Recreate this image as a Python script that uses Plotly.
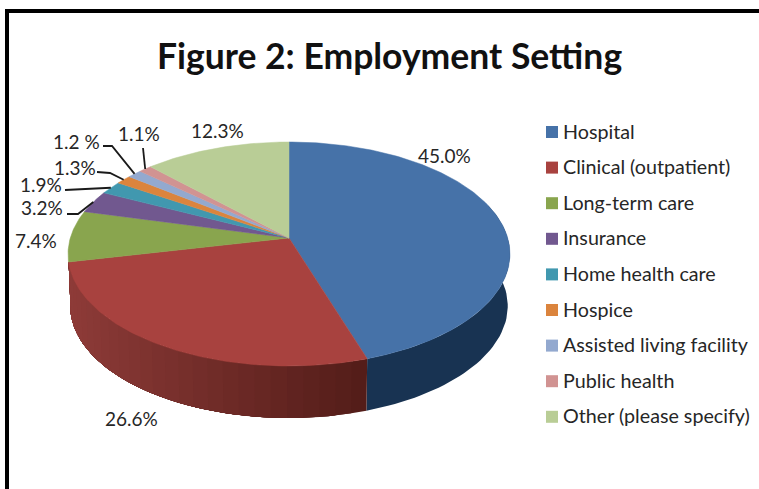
import math
import plotly.graph_objects as go

categories = ["Hospital", "Clinical (outpatient)", "Long-term care", "Insurance",
              "Home health care", "Hospice", "Assisted living facility",
              "Public health", "Other (please specify)"]
values = [45.0, 26.6, 7.4, 3.2, 1.9, 1.3, 1.2, 1.1, 12.3]
value_labels = ["45.0%", "26.6%", "7.4%", "3.2%", "1.9%", "1.3%", "1.2 %", "1.1%", "12.3%"]
colors = ["#4672A8", "#A8423F", "#89A54E", "#71588F", "#4198AF",
          "#DB843D", "#93A9CF", "#D19392", "#B9CD96"]
side_near = ["#17304F", "#8E3B38", "#6B8040", "#574470", "#327688",
             "#AA672F", "#7385A1", "#A37271", "#909F75"]
side_far = ["#1A3655", "#541D19", "#6B8040", "#574470", "#327688",
            "#AA672F", "#7385A1", "#A37271", "#909F75"]

# perspective pie geometry (pixels)
CX, CY, R, K, P = 289.0, 238.0, 218.7, 109.7, 1 / 7
DEPTH, BOTTOM_SCALE = 52.0, 0.99
FONT = "Lato"


def project(pct):
    t = 2 * math.pi * pct / 100
    u, v = math.sin(t), -math.cos(t)
    w = 1 - P * v
    return CX + R * u / w, CY + K * v / w


def base(x, y):
    return CX + (x - CX) * BOTTOM_SCALE, y + DEPTH


def hex_rgb(c):
    return tuple(int(c[i:i + 2], 16) for i in (1, 3, 5))


def mix(a, b, f):
    ca, cb = hex_rgb(a), hex_rgb(b)
    return "rgb(%d,%d,%d)" % tuple(round(ca[i] + (cb[i] - ca[i]) * f) for i in range(3))


fig = go.Figure()
bounds = [0.0]
for val in values:
    bounds.append(bounds[-1] + val)
scale = 100 / bounds[-1]
bounds = [b * scale for b in bounds]


def wall(p_from, p_to, col):
    n = max(2, int((p_to - p_from) * 2))
    top = [project(p_from + (p_to - p_from) * k / n) for k in range(n + 1)]
    bot = [base(*p) for p in top][::-1]
    pts = top + bot + [top[0]]
    fig.add_trace(go.Scatter(x=[p[0] for p in pts], y=[p[1] for p in pts], mode="lines",
                             fill="toself", fillcolor=col, line=dict(width=0),
                             hoverinfo="skip", showlegend=False))


# side wall: hospital is flat, clinical shades strip by strip with overlap
WALL_START, WALL_END = 20.0, 71.6
wall(WALL_START, bounds[1], mix(side_far[0], side_near[0], 0.5))
a, b = bounds[1], min(bounds[2], WALL_END)
strips = 26
x_near, x_far = project(a)[0], project(b)[0]
for s in range(strips):
    p0 = a + (b - a) * s / strips
    f = (x_near - project(p0)[0]) / (x_near - x_far)
    wall(p0, b, mix(side_far[1], side_near[1], f))

# top face
for i, cat in enumerate(categories):
    a, b = bounds[i], bounds[i + 1]
    n = max(3, int((b - a) * 4))
    pts = [project(a + (b - a) * k / n) for k in range(n + 1)]
    xs = [CX] + [p[0] for p in pts] + [CX]
    ys = [CY] + [p[1] for p in pts] + [CY]
    fig.add_trace(go.Scatter(x=xs, y=ys, mode="lines", fill="toself", fillcolor=colors[i],
                             line=dict(color=colors[i], width=0.5), name=cat,
                             hovertemplate=cat + ": " + value_labels[i] + "<extra></extra>",
                             showlegend=False))

# leader lines: label side typed, pie side taken from the slice's rim position
leaders = {3: [(67, 214), (78, 214)], 4: [(65, 190)], 5: [(97, 172), (110, 173)],
           6: [(103, 146), (112, 146)], 7: [(143, 148)]}
for i, start in leaders.items():
    rim = project((bounds[i] + bounds[i + 1]) / 2)
    xs = [p[0] for p in start] + [rim[0]]
    ys = [p[1] for p in start] + [rim[1]]
    fig.add_trace(go.Scatter(x=xs, y=ys, mode="lines", line=dict(color="#1a1a1a", width=1.8),
                             hoverinfo="skip", showlegend=False))

# legend
legend_x, legend_y0, legend_step = 552, 132, 35.6
legend_rows = [legend_y0 + legend_step * k for k in range(len(categories))]
fig.add_trace(go.Scatter(x=[legend_x] * len(categories), y=legend_rows, mode="markers",
                         marker=dict(symbol="square", size=12, color=colors),
                         text=categories, hoverinfo="text", showlegend=False))

annotations = []
for cat, y in zip(categories, legend_rows):
    annotations.append(dict(x=561, y=y - 1, text=cat, xref="x", yref="y", xanchor="left",
                            yanchor="middle", showarrow=False,
                            font=dict(family=FONT, size=19.7, color="#262626")))

label_positions = [(444, 155), (131, 418), (36, 240), (42, 207), (41, 184),
                   (75, 167), (76, 141), (139, 133), (217, 130)]
for text, (x, y) in zip(value_labels, label_positions):
    annotations.append(dict(x=x, y=y, text=text, xref="x", yref="y", xanchor="center",
                            yanchor="middle", showarrow=False,
                            font=dict(family=FONT, size=19, color="#262626")))

fig.update_layout(
    width=759, height=489, margin=dict(l=0, r=0, t=0, b=0),
    paper_bgcolor="white", plot_bgcolor="white", showlegend=False,
    title=dict(text="<b>Figure 2: Employment Setting</b>", x=389.5 / 759, xanchor="center",
               y=1 - 57 / 489, yanchor="middle", font=dict(family=FONT, size=35.5, color="#111111")),
    xaxis=dict(range=[0, 759], visible=False, fixedrange=True),
    yaxis=dict(range=[489, 0], visible=False, fixedrange=True),
    annotations=annotations,
    shapes=[dict(type="rect", xref="x", yref="y", x0=7, y0=11, x1=800, y1=800,
                 line=dict(color="black", width=4), layer="below")],
)
fig.write_html("out.html", config=dict(displayModeBar=False),
               post_script="document.body.style.margin='0';document.documentElement.style.overflow='hidden';")
